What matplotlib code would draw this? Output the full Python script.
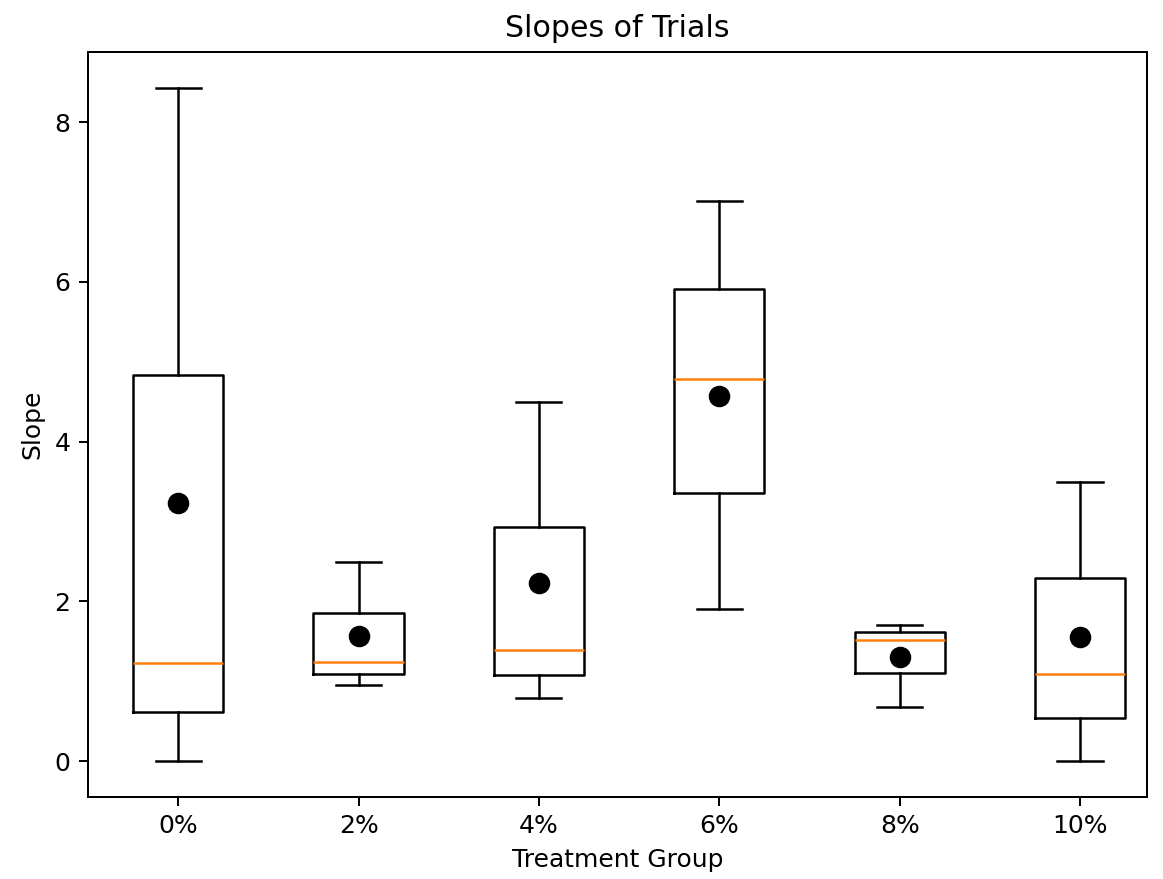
import numpy as np
import matplotlib
matplotlib.use("Agg")
import matplotlib.pyplot as plt

# summary stats
groups = ['0%', '2%', '4%', '6%', '8%', '10%']
whislo = [0.00, 0.95, 0.79, 1.90, 0.68, 0.00]
q1 = [0.61, 1.09, 1.08, 3.35, 1.10, 0.54]
med = [1.23, 1.24, 1.39, 4.78, 1.51, 1.09]
q3 = [4.83, 1.85, 2.93, 5.91, 1.61, 2.29]
whishi = [8.42, 2.49, 4.49, 7.01, 1.70, 3.49]
means = [3.23, 1.56, 2.23, 4.57, 1.30, 1.55]

stats = []
for i, g in enumerate(groups):
    stats.append({'label': g, 'whislo': whislo[i], 'q1': q1[i], 'med': med[i],
                  'q3': q3[i], 'whishi': whishi[i], 'fliers': []})

dpi = 180
fig = plt.figure(figsize=(1163 / dpi, 879 / dpi), dpi=dpi)
ax = fig.add_axes([0.0757, 0.0933, 0.9103, 0.8475])

ax.bxp(stats, showfliers=False)
ax.scatter(np.arange(1, len(groups) + 1), means, color='black', s=58, zorder=3)

ax.set_xlim(0.5, 6.37)
ax.set_ylim(-0.45, 8.876)
ax.set_title('Slopes of Trials')
ax.set_xlabel('Treatment Group')
ax.set_ylabel('Slope')

fig.savefig('out.png', dpi=dpi)
